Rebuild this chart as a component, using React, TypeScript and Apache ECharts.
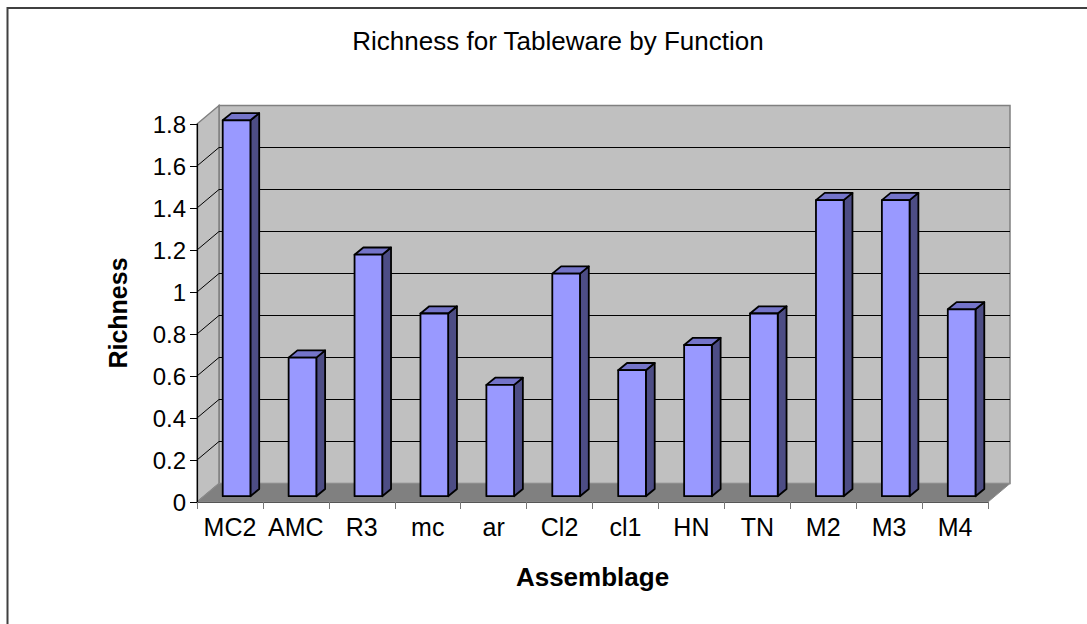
import React, { useEffect, useRef } from "react";
import * as echarts from "echarts";

// Assemblage categories and their tableware richness
const categories = ["MC2", "AMC", "R3", "mc", "ar", "Cl2", "cl1", "HN", "TN", "M2", "M3", "M4"];
const richness = [1.79, 0.66, 1.15, 0.87, 0.53, 1.06, 0.6, 0.72, 0.87, 1.41, 1.41, 0.89];

// Value-axis range and the gridlines drawn on the back and side walls
const yMin = 0;
const yMax = 1.8;
const yStep = 0.2;
const wallGridValues = [0.2, 0.4, 0.6, 0.8, 1.0, 1.2, 1.4, 1.6];

const FONT = "'Liberation Sans', Arial, sans-serif";

// Oblique projection of the 3D box: the back wall sits WALL_DX right and WALL_DY up
const WALL_DX = 22;
const WALL_DY = -18.5;
// Column front face is set back into the box; the column has its own depth
const FACE_DX = 6.6;
const FACE_DY = -5.8;
const COL_DX = 8.8;
const COL_DY = -7.2;
const COL_WIDTH_RATIO = 0.42;

const FRONT = "#9999ff";
const SIDE = "#4d4d85";
const TOP = "#7474c9";

export default function App() {
  const ref = useRef<HTMLDivElement>(null);

  useEffect(() => {
    if (!ref.current) return;
    const chart = echarts.init(ref.current, null, { renderer: "svg" });

    const frameSeries = {
      type: "custom",
      z: 1,
      silent: true,
      data: [[0, 0]],
      renderItem: (params: any, api: any) => {
        const cs = params.coordSys;
        const x0 = cs.x;
        const y0 = cs.y;
        const w = cs.width;
        const yb = cs.y + cs.height;
        const children: any[] = [
          {
            type: "rect",
            shape: { x: x0 + WALL_DX, y: y0 + WALL_DY, width: w, height: cs.height },
            style: { fill: "#c0c0c0", stroke: "#808080", lineWidth: 1.5 },
          },
          {
            type: "polygon",
            shape: {
              points: [
                [x0, yb],
                [x0, y0],
                [x0 + WALL_DX, y0 + WALL_DY],
                [x0 + WALL_DX, yb + WALL_DY],
              ],
            },
            style: { fill: "#c0c0c0", stroke: "#808080", lineWidth: 1.5 },
          },
        ];
        wallGridValues.forEach((v) => {
          const y = api.coord([0, v])[1];
          children.push({
            type: "line",
            shape: { x1: x0 + WALL_DX, y1: y + WALL_DY, x2: x0 + w + WALL_DX, y2: y + WALL_DY },
            style: { stroke: "#000", lineWidth: 1 },
          });
          children.push({
            type: "line",
            shape: { x1: x0, y1: y, x2: x0 + WALL_DX, y2: y + WALL_DY },
            style: { stroke: "#000", lineWidth: 1 },
          });
        });
        children.push({
          type: "polygon",
          shape: {
            points: [
              [x0, yb],
              [x0 + WALL_DX, yb + WALL_DY],
              [x0 + w + WALL_DX, yb + WALL_DY],
              [x0 + w, yb],
            ],
          },
          style: { fill: "#808080", stroke: "#8c8c8c", lineWidth: 1 },
        });
        return { type: "group", children };
      },
    };

    const columnSeries = {
      type: "custom",
      z: 2,
      data: richness.map((v, i) => [i, v]),
      renderItem: (_params: any, api: any) => {
        const i = api.value(0);
        const v = api.value(1);
        const base = api.coord([i, 0]);
        const top = api.coord([i, v]);
        const band = api.size([1, 0])[0];
        const bw = band * COL_WIDTH_RATIO;
        const xl = base[0] - bw / 2 + FACE_DX;
        const xr = xl + bw;
        const yb = base[1] + FACE_DY;
        const yt = top[1] + FACE_DY;
        const edge = { stroke: "#000", lineWidth: 1.8, lineJoin: "round" };
        return {
          type: "group",
          children: [
            {
              type: "polygon",
              shape: {
                points: [
                  [xr, yt],
                  [xr + COL_DX, yt + COL_DY],
                  [xr + COL_DX, yb + COL_DY],
                  [xr, yb],
                ],
              },
              style: { fill: SIDE, ...edge },
            },
            {
              type: "polygon",
              shape: {
                points: [
                  [xl, yt],
                  [xl + COL_DX, yt + COL_DY],
                  [xr + COL_DX, yt + COL_DY],
                  [xr, yt],
                ],
              },
              style: { fill: TOP, ...edge },
            },
            {
              type: "rect",
              shape: { x: xl, y: yt, width: bw, height: yb - yt },
              style: { fill: FRONT, ...edge },
            },
          ],
        };
      },
    };

    chart.setOption({
      animation: false,
      backgroundColor: "#ffffff",
      title: {
        text: "Richness for Tableware by Function",
        left: 553,
        top: 23,
        textAlign: "center",
        textStyle: { fontFamily: FONT, fontSize: 26, fontWeight: "normal", color: "#000" },
      },
      grid: { left: 197, top: 124, width: 791, height: 378, containLabel: false },
      xAxis: {
        type: "category",
        data: categories,
        boundaryGap: true,
        z: 5,
        axisLine: { show: true, lineStyle: { color: "#555", width: 1.2 } },
        axisTick: { show: true, length: 7, lineStyle: { color: "#777" } },
        axisLabel: { interval: 0, margin: 12, fontFamily: FONT, fontSize: 25, color: "#000" },
        name: "Assemblage",
        nameLocation: "middle",
        nameGap: 62,
        nameTextStyle: { fontFamily: FONT, fontSize: 26, fontWeight: "bold", color: "#000" },
        splitLine: { show: false },
      },
      yAxis: {
        type: "value",
        min: yMin,
        max: yMax,
        interval: yStep,
        z: 5,
        axisLine: { show: true, lineStyle: { color: "#000", width: 1.2 } },
        axisTick: { show: true, length: 7, lineStyle: { color: "#000" } },
        axisLabel: {
          margin: 11,
          fontFamily: FONT,
          fontSize: 24,
          color: "#000",
          formatter: (v: number) => String(Math.round(v * 10) / 10),
        },
        splitLine: { show: false },
        name: "Richness",
        nameLocation: "middle",
        nameRotate: 90,
        nameGap: 67,
        nameTextStyle: { fontFamily: FONT, fontSize: 25, fontWeight: "bold", color: "#000" },
      },
      graphic: [
        {
          type: "rect",
          silent: true,
          shape: { x: 7.5, y: 8, width: 1200, height: 700 },
          style: { fill: "none", stroke: "#404040", lineWidth: 2 },
        },
      ],
      series: [frameSeries, columnSeries],
    });

    return () => chart.dispose();
  }, []);

  return (
    <div
      ref={ref}
      style={{ position: "fixed", left: 0, top: 0, width: 1087, height: 624 }}
    />
  );
}
